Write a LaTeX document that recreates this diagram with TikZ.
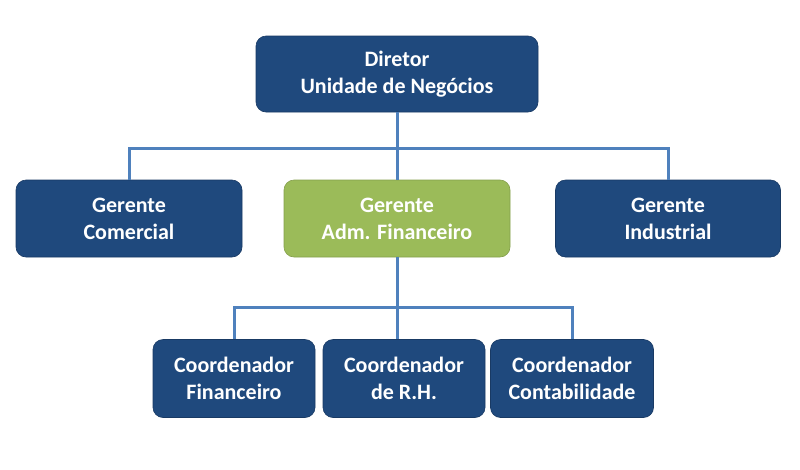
\documentclass[tikz,border=0pt]{standalone}
\usepackage{fontspec}
\setmainfont{Carlito}
\usepackage{tikz}
\usetikzlibrary{calc}
\definecolor{boxblue}{RGB}{31,73,125}
\definecolor{boxgreen}{RGB}{155,187,89}
\definecolor{linkblue}{RGB}{79,129,189}

\begin{document}
\begin{tikzpicture}[x=1pt,y=1pt,
    unit/.style={rectangle, rounded corners=10pt, fill=boxblue, draw=boxblue!80!black, line width=0.6pt,
      text=white, align=center, font=\fontsize{22}{27}\selectfont\bfseries, inner sep=0pt},
    link/.style={draw=linkblue, line width=3pt}]
  \useasboundingbox (0,0) rectangle (800,-469);
  % top
  \node[unit, minimum width=282, minimum height=76] (dir) at (397,-74) {Diretor\\Unidade de Negócios};
  % gerentes
  \node[unit, minimum width=226, minimum height=77] (com) at (129,-218.5) {Gerente\\Comercial};
  \node[unit, minimum width=226, minimum height=77, fill=boxgreen, draw=boxgreen!85!black] (adm) at (397,-218.5) {Gerente\\Adm. Financeiro};
  \node[unit, minimum width=225, minimum height=77] (ind) at (668,-218.5) {Gerente\\Industrial};
  % coordenadores
  \node[unit, minimum width=162, minimum height=78] (fin) at (234,-378.5) {Coordenador\\Financeiro};
  \node[unit, minimum width=162, minimum height=78] (rh) at (404,-378.5) {Coordenador\\de R.H.};
  \node[unit, minimum width=163, minimum height=78] (cont) at (572,-378.5) {Coordenador\\Contabilidade};

  \coordinate (ja) at (397,-148);
  \coordinate (jb) at (397,-307);
  \path[link]
    (dir.south) -- (ja)
    (ja) -| (com.north)
    (ja) -| (ind.north)
    (ja) -- (adm.north);
  \path[link]
    (adm.south) -- (jb)
    (jb) -| (fin.north)
    (jb) -| (cont.north)
    (jb) -- (jb |- rh.north);
\end{tikzpicture}
\end{document}
